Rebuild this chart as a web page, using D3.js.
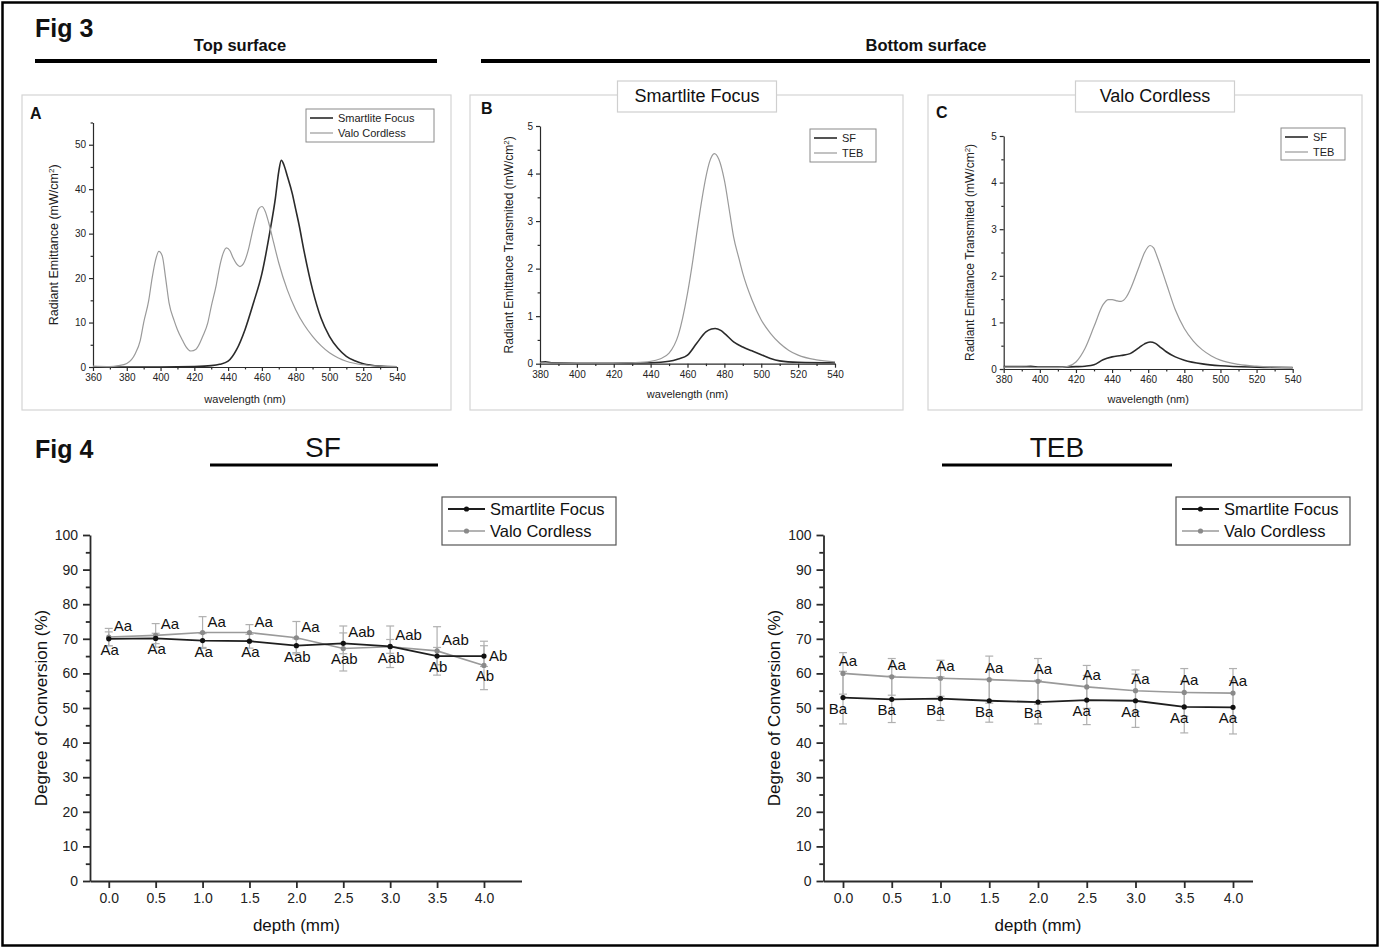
<!DOCTYPE html>
<html>
<head>
<meta charset="utf-8">
<script src="https://cdn.jsdelivr.net/npm/d3@7"></script>
<style>
  body { margin: 0; background: #fff; }
  svg text { font-family: "Liberation Sans", Arial, sans-serif; }
</style>
</head>
<body>
<script>
// ---- Fig 3 spectra (wavelength nm, radiant emittance) ----
var aSmartWl  = [360,380,400,420,430,435,440,445,450,455,460,465,468,470,471.5,473,475,478,480,482,485,490,495,500,505,510,515,520,530,540];
var aSmartVal = [0,0,0,0.1,0.3,0.6,1.3,3.9,8.4,14.4,21,31,38,44,46.5,45.5,43,39,35.5,32,26,17.4,11,6.9,4.2,2.4,1.4,0.75,0.2,0.05];
var aValoWl   = [360,370,375,380,385,388,390,393,395,397,399,401,403,405,408,410,413,415,418,421,425,428,430,433,435,437,439,441,443,445,447,449,452,454,456,458,460,462,464,467,470,475,480,485,490,495,500,505,510,520,530,540];
var aValoVal  = [0.2,0.1,0.3,0.8,3,6,10,15,20,24,26,25,20,14.5,10.5,8.4,6,4.6,3.6,4,6.9,10,13.6,18.5,22.6,25.5,26.8,26.2,24.5,23.2,22.6,23.2,26.4,29.8,33,35.5,36.1,35,32.5,27.9,23.4,17.4,12.9,9.5,6.9,4.8,3.2,2.1,1.3,0.5,0.2,0.1];

var bSfWl   = [380,383,386,400,420,440,450,455,460,465,470,473,475,478,480,485,490,495,500,505,510,520,540];
var bSfVal  = [0.03,0.04,0.02,0.01,0.01,0.02,0.05,0.1,0.18,0.43,0.67,0.73,0.74,0.7,0.64,0.46,0.35,0.27,0.19,0.11,0.06,0.03,0.02];
var bTebWl  = [380,400,420,430,440,445,450,455,460,463,465,468,470,472,474.6,477,480,483,485,488,490,495,500,505,510,515,520,530,540];
var bTebVal = [0.02,0.01,0.01,0.02,0.05,0.1,0.22,0.6,1.48,2.2,2.74,3.5,3.93,4.25,4.42,4.3,3.86,3.15,2.67,2.2,1.9,1.34,0.92,0.64,0.43,0.28,0.18,0.08,0.04];

var cSfWl   = [380,390,395,400,410,420,425,430,435,440,445,450,455,458,461,464,467,470,475,480,490,500,520,540];
var cSfVal  = [0.05,0.05,0.06,0.04,0.04,0.05,0.06,0.09,0.2,0.26,0.29,0.33,0.46,0.54,0.58,0.55,0.46,0.37,0.26,0.19,0.11,0.07,0.04,0.03];
var cTebWl  = [380,390,400,410,415,420,425,430,435,438,440,443,445,448,450,455,458,461,463,465,470,475,480,485,490,495,500,510,520,530,540];
var cTebVal = [0.04,0.04,0.03,0.03,0.05,0.15,0.44,0.91,1.38,1.49,1.49,1.46,1.45,1.55,1.7,2.2,2.5,2.65,2.6,2.41,1.84,1.27,0.87,0.6,0.41,0.28,0.19,0.1,0.06,0.04,0.03];

// ---- Fig 4 degree of conversion ----
var depths = [0,0.5,1.0,1.5,2.0,2.5,3.0,3.5,4.0];
var depthTicks = ["0.0","0.5","1.0","1.5","2.0","2.5","3.0","3.5","4.0"];

var sfSmart    = [70.0,70.1,69.5,69.3,68.0,68.7,67.8,65.0,65.0];
var sfSmartErr = [2,1.5,2,2,2,3,2,2.5,3];
var sfValo     = [70.5,71.0,71.8,71.8,70.3,67.2,67.7,66.5,62.3];
var sfValoErr  = [2.5,3.4,4.6,2.3,4.7,6.5,6,7,7];
var sfUpperLbl = ["Aa","Aa","Aa","Aa","Aa","Aab","Aab","Aab","Ab"];
var sfLowerLbl = ["Aa","Aa","Aa","Aa","Aab","Aab","Aab","Ab","Ab"];

var tebSmart    = [53.0,52.5,52.7,52.1,51.7,52.3,52.1,50.3,50.2];
var tebSmartErr = [7.6,6.7,6.3,6.2,6.3,7.1,7.7,7.5,7.7];
var tebValo     = [60.0,59.0,58.6,58.2,57.7,56.1,55.0,54.5,54.3];
var tebValoErr  = [6.0,5.3,5.2,6.8,6.6,6.2,6.0,6.9,7.1];
var tebUpperLbl = ["Aa","Aa","Aa","Aa","Aa","Aa","Aa","Aa","Aa"];
var tebLowerLbl = ["Ba","Ba","Ba","Ba","Ba","Aa","Aa","Aa","Aa"];

var DARK = "#1e1e1e", LIGHT = "#9a9a9a";

var svg = d3.select("body").append("svg")
    .attr("width", 1381).attr("height", 949);

// outer frame
svg.append("rect").attr("x", 2.5).attr("y", 2.5).attr("width", 1375).attr("height", 943)
    .attr("fill", "none").attr("stroke", "#000").attr("stroke-width", 2.5);

function txt(x, y, s, size, opts) {
  opts = opts || {};
  return svg.append("text").attr("x", x).attr("y", y).text(s)
    .attr("font-size", size)
    .attr("font-weight", opts.bold ? "bold" : "normal")
    .attr("text-anchor", opts.anchor || "start")
    .attr("fill", "#111");
}
function hline(x1, x2, y, w) {
  svg.append("line").attr("x1", x1).attr("x2", x2).attr("y1", y).attr("y2", y)
    .attr("stroke", "#000").attr("stroke-width", w);
}

// headers
txt(35, 37, "Fig 3", 25, {bold: true});
txt(240, 51, "Top surface", 16.5, {bold: true, anchor: "middle"});
hline(35, 437, 61, 4);
txt(926, 51, "Bottom surface", 16.5, {bold: true, anchor: "middle"});
hline(481, 1370, 61, 4);

txt(35, 458, "Fig 4", 25, {bold: true});
txt(323, 457, "SF", 28, {anchor: "middle"});
hline(210, 438, 465, 3);
txt(1057, 457, "TEB", 28, {anchor: "middle"});
hline(942, 1172, 465, 3);

// axes with minor ticks
function drawAxes(g, x, y, o) {
  var gx = g.append("g").attr("transform", "translate(0," + y.range()[0] + ")");
  gx.call(d3.axisBottom(x).tickValues(o.xTicks).tickSize(o.tick).tickSizeOuter(0)
      .tickPadding(o.pad).tickFormat(o.xFmt));
  if (o.xMinor) {
    gx.append("g").call(d3.axisBottom(x).tickValues(o.xMinor).tickSize(o.tick * 0.6).tickFormat(""))
      .select(".domain").remove();
  }
  var gy = g.append("g").attr("transform", "translate(" + x.range()[0] + ",0)");
  gy.call(d3.axisLeft(y).tickValues(o.yTicks).tickSize(o.tick).tickSizeOuter(0)
      .tickPadding(o.pad).tickFormat(d3.format("d")));
  gy.append("g").call(d3.axisLeft(y).tickValues(o.yMinor).tickSize(o.tick * 0.6).tickFormat(""))
    .select(".domain").remove();
  g.selectAll(".domain, .tick line").attr("stroke", "#2a2a2a").attr("stroke-width", o.axisW);
  g.selectAll(".tick text").attr("font-size", o.font).attr("fill", "#222")
    .attr("font-family", "'Liberation Sans', Arial, sans-serif");
}

// ---------- Fig 3 spectrum panels ----------
function spectrumPanel(o) {
  var g = svg.append("g");
  g.append("rect").attr("x", o.frame[0]).attr("y", o.frame[1])
    .attr("width", o.frame[2] - o.frame[0]).attr("height", o.frame[3] - o.frame[1])
    .attr("fill", "none").attr("stroke", "#d4d4d4").attr("stroke-width", 1.2);

  if (o.title) {
    var tw = o.title.w;
    g.append("rect").attr("x", o.title.cx - tw / 2).attr("y", 81).attr("width", tw).attr("height", 31)
      .attr("fill", "#fff").attr("stroke", "#cfcfcf").attr("stroke-width", 1.2);
    g.append("text").attr("x", o.title.cx).attr("y", 102).attr("text-anchor", "middle")
      .attr("font-size", 18).attr("fill", "#111").text(o.title.text);
  }

  var x = d3.scaleLinear().domain(o.xdom).range(o.xr);
  var y = d3.scaleLinear().domain(o.ydom).range(o.yr);

  drawAxes(g, x, y, {xTicks: d3.range(o.xdom[0], o.xdom[1] + 1, 20), xMinor: d3.range(o.xdom[0] + 10, o.xdom[1], 20),
    yTicks: o.yTicks, yMinor: o.yMinor, tick: 4, pad: 3, font: 10, axisW: 1.2, xFmt: d3.format("d")});

  var line = d3.line().curve(d3.curveMonotoneX)
    .x(function(d) { return x(d[0]); }).y(function(d) { return y(d[1]); });
  o.series.forEach(function(s) {
    g.append("path").datum(d3.zip(s.wl, s.val)).attr("d", line)
      .attr("fill", "none").attr("stroke", s.color).attr("stroke-width", s.w);
  });

  g.append("text").attr("x", o.letter[0]).attr("y", o.letter[1]).attr("font-size", 16)
    .attr("font-weight", "bold").attr("fill", "#111").text(o.letter[2]);

  var cy = (o.yr[0] + o.yr[1]) / 2;
  var yl = g.append("text").attr("transform", "translate(" + o.ylabX + "," + cy + ") rotate(-90)")
    .attr("text-anchor", "middle").attr("font-size", o.ylabSize).attr("fill", "#222");
  yl.append("tspan").text(o.ylab + " (mW/cm");
  yl.append("tspan").attr("baseline-shift", "super").attr("font-size", o.ylabSize * 0.65).text("2");
  yl.append("tspan").text(")");

  g.append("text").attr("x", (o.xr[0] + o.xr[1]) / 2).attr("y", o.xlabY).attr("text-anchor", "middle")
    .attr("font-size", 11).attr("fill", "#222").text("wavelength (nm)");

  var L = o.legend;
  g.append("rect").attr("x", L.x).attr("y", L.y).attr("width", L.w).attr("height", L.h)
    .attr("fill", "#fff").attr("stroke", "#8a8a8a").attr("stroke-width", 1);
  o.series.forEach(function(s, i) {
    var ly = L.y + 9 + i * 15;
    g.append("line").attr("x1", L.x + 4).attr("x2", L.x + 27).attr("y1", ly).attr("y2", ly)
      .attr("stroke", s.color).attr("stroke-width", s.w);
    g.append("text").attr("x", L.x + 32).attr("y", ly + 4).attr("font-size", 11)
      .attr("fill", "#222").text(s.name);
  });
}

spectrumPanel({
  frame: [22, 95, 451, 410], xdom: [360, 540], xr: [93, 397], ydom: [0, 55], yr: [367, 122.5],
  yTicks: d3.range(0, 51, 10), yMinor: d3.range(5, 56, 10),
  letter: [30, 119, "A"], ylab: "Radiant Emittance", ylabX: 58, ylabSize: 12.5, xlabY: 403,
  series: [
    {name: "Smartlite Focus", wl: aSmartWl, val: aSmartVal, color: "#2a2a2a", w: 1.6},
    {name: "Valo Cordless", wl: aValoWl, val: aValoVal, color: LIGHT, w: 1.2}
  ],
  legend: {x: 306, y: 109, w: 128, h: 33}
});

spectrumPanel({
  frame: [470, 95, 903, 410], xdom: [380, 540], xr: [540, 835], ydom: [0, 5], yr: [363.7, 126],
  yTicks: d3.range(0, 6, 1), yMinor: d3.range(0.5, 5, 1),
  title: {text: "Smartlite Focus", cx: 697, w: 159},
  letter: [481, 114, "B"], ylab: "Radiant Emittance Transmited", ylabX: 513, ylabSize: 12, xlabY: 398,
  series: [
    {name: "SF", wl: bSfWl, val: bSfVal, color: "#2a2a2a", w: 1.6},
    {name: "TEB", wl: bTebWl, val: bTebVal, color: LIGHT, w: 1.2}
  ],
  legend: {x: 810, y: 129, w: 66, h: 33}
});

spectrumPanel({
  frame: [928, 95, 1362, 410], xdom: [380, 540], xr: [1003.7, 1292.7], ydom: [0, 5], yr: [369, 136],
  yTicks: d3.range(0, 6, 1), yMinor: d3.range(0.5, 5, 1),
  title: {text: "Valo Cordless", cx: 1155, w: 159},
  letter: [936, 118, "C"], ylab: "Radiant Emittance Transmited", ylabX: 974, ylabSize: 12, xlabY: 403,
  series: [
    {name: "SF", wl: cSfWl, val: cSfVal, color: "#2a2a2a", w: 1.6},
    {name: "TEB", wl: cTebWl, val: cTebVal, color: LIGHT, w: 1.2}
  ],
  legend: {x: 1281, y: 128, w: 64, h: 32}
});

// ---------- Fig 4 conversion panels ----------
function conversionPanel(o) {
  var g = svg.append("g");
  var x = d3.scaleLinear().domain(o.xdom).range(o.xr);
  var y = d3.scaleLinear().domain([0, 100]).range([881, 535]);

  drawAxes(g, x, y, {xTicks: depths, xMinor: null, yTicks: d3.range(0, 101, 10), yMinor: d3.range(5, 100, 10),
    tick: 7, pad: 5, font: 14, axisW: 1.8, xFmt: function(d, i) { return depthTicks[i]; }});

  g.append("text").attr("transform", "translate(" + o.ylabX + ",708) rotate(-90)")
    .attr("text-anchor", "middle").attr("font-size", 17).attr("fill", "#111").text("Degree of Conversion (%)");
  g.append("text").attr("x", (x(0) + x(4)) / 2).attr("y", 931).attr("text-anchor", "middle")
    .attr("font-size", 17).attr("fill", "#111").text("depth (mm)");

  var series = [
    {name: "Smartlite Focus", v: o.smart, e: o.smartErr, color: DARK, w: 1.8, mc: "#111"},
    {name: "Valo Cordless", v: o.valo, e: o.valoErr, color: LIGHT, w: 1.6, mc: "#8a8a8a"}
  ];

  // error bars
  series.slice().reverse().forEach(function(s) {
    var eg = g.append("g").attr("stroke", "#b0b0b0").attr("stroke-width", 1.2);
    depths.forEach(function(d, i) {
      var y1 = y(s.v[i] - s.e[i]), y2 = y(s.v[i] + s.e[i]), xc = x(d);
      eg.append("line").attr("x1", xc).attr("x2", xc).attr("y1", y1).attr("y2", y2);
      eg.append("line").attr("x1", xc - 4).attr("x2", xc + 4).attr("y1", y1).attr("y2", y1);
      eg.append("line").attr("x1", xc - 4).attr("x2", xc + 4).attr("y1", y2).attr("y2", y2);
    });
  });

  var line = d3.line().x(function(d) { return x(d[0]); }).y(function(d) { return y(d[1]); });
  series.slice().reverse().forEach(function(s) {
    g.append("path").datum(d3.zip(depths, s.v)).attr("d", line)
      .attr("fill", "none").attr("stroke", s.color).attr("stroke-width", s.w);
    g.selectAll(null).data(d3.zip(depths, s.v)).enter().append("circle")
      .attr("cx", function(d) { return x(d[0]); }).attr("cy", function(d) { return y(d[1]); })
      .attr("r", 2.6).attr("fill", s.mc);
  });

  // significance letters
  depths.forEach(function(d, i) {
    var hi = Math.max(o.smart[i], o.valo[i]), lo = Math.min(o.smart[i], o.valo[i]);
    var up = o.upperPlace[i];
    g.append("text").attr("font-size", 15).attr("fill", "#111")
      .attr("x", x(d) + up.dx).attr("y", up.side ? y(hi) + 5 : y(hi) + up.dy)
      .attr("text-anchor", up.anchor).text(o.upper[i]);
    g.append("text").attr("font-size", 15).attr("fill", "#111")
      .attr("x", x(d) + o.lowerDx).attr("y", y(lo) + 16).attr("text-anchor", "middle").text(o.lower[i]);
  });

  var L = o.legend;
  g.append("rect").attr("x", L.x).attr("y", L.y).attr("width", 174).attr("height", 48)
    .attr("fill", "#fff").attr("stroke", "#555").attr("stroke-width", 1.2);
  series.forEach(function(s, i) {
    var ly = L.y + 12 + i * 22;
    g.append("line").attr("x1", L.x + 6).attr("x2", L.x + 43).attr("y1", ly).attr("y2", ly)
      .attr("stroke", s.color).attr("stroke-width", s.w);
    g.append("circle").attr("cx", L.x + 24.5).attr("cy", ly).attr("r", 2.6).attr("fill", s.mc);
    g.append("text").attr("x", L.x + 48).attr("y", ly + 6).attr("font-size", 16.5)
      .attr("fill", "#111").text(s.name);
  });
}

var sfPlace = depths.map(function(d, i) {
  return i === depths.length - 1 ? {dx: 5, side: true, anchor: "start"} : {dx: 5, dy: -6, anchor: "start"};
});
var tebPlace = depths.map(function() { return {dx: 5, dy: -7, anchor: "middle"}; });

conversionPanel({
  xdom: [-0.2, 4.4], xr: [90, 521.5], ylabX: 47,
  smart: sfSmart, smartErr: sfSmartErr, valo: sfValo, valoErr: sfValoErr,
  upper: sfUpperLbl, lower: sfLowerLbl, upperPlace: sfPlace, lowerDx: 1,
  legend: {x: 442, y: 497}
});

conversionPanel({
  xdom: [-0.2, 4.2], xr: [823.5, 1252.5], ylabX: 780,
  smart: tebSmart, smartErr: tebSmartErr, valo: tebValo, valoErr: tebValoErr,
  upper: tebUpperLbl, lower: tebLowerLbl, upperPlace: tebPlace, lowerDx: -5,
  legend: {x: 1176, y: 497}
});
</script>
</body>
</html>
